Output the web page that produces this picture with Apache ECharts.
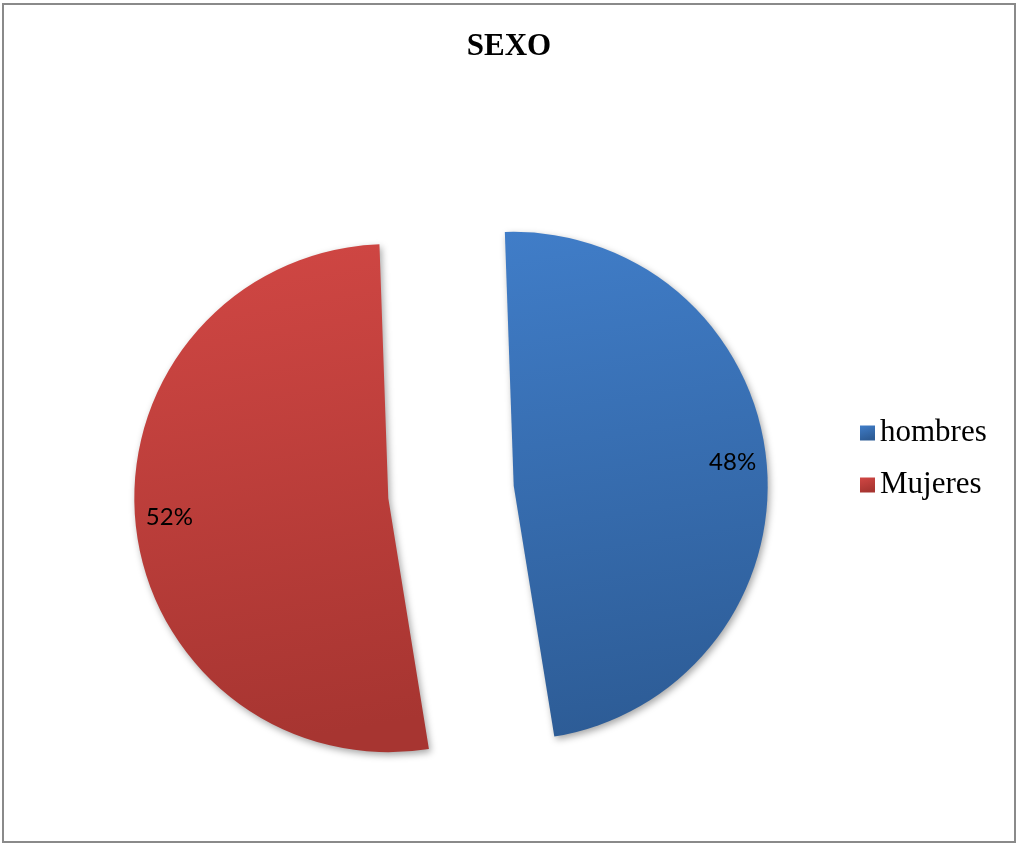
<!DOCTYPE html>
<html>
<head>
<meta charset="utf-8">
<script src="https://cdn.jsdelivr.net/npm/echarts@6/dist/echarts.min.js"></script>
<style>
html,body{margin:0;padding:0;background:#fff;}
#c{width:1018px;height:846px;}
</style>
</head>
<body>
<div id="c"></div>
<script>
var titleText = 'SEXO';
var categories = ['hombres', 'Mujeres'];
var values = [48, 52];

var fills = [
  {top: '#407dc8', bottom: '#2d5c96'},
  {top: '#d14744', bottom: '#a73531'}
];

function grad(c) {
  return new echarts.graphic.LinearGradient(0, 0, 0.3, 1, [
    {offset: 0, color: c.top},
    {offset: 1, color: c.bottom}
  ]);
}

var mainData = categories.map(function (n, i) {
  return {name: n, value: values[i], selected: true, itemStyle: {color: grad(fills[i])}};
});
var labelData = categories.map(function (n, i) {
  return {name: n, value: values[i], selected: true};
});

var chart = echarts.init(document.getElementById('c'), null, {renderer: 'canvas'});
chart.setOption({
  animation: false,
  backgroundColor: '#ffffff',
  title: {
    text: titleText,
    left: 'center',
    top: 26,
    textStyle: {fontFamily: 'Liberation Serif', fontWeight: 'bold', fontSize: 31, color: '#000'}
  },
  legend: {
    data: categories,
    orient: 'vertical',
    left: 855,
    top: 412,
    icon: 'rect',
    itemWidth: 15,
    itemHeight: 15,
    itemGap: 20,
    selectedMode: false,
    textStyle: {fontFamily: 'Liberation Serif', fontSize: 31, color: '#000', lineHeight: 32}
  },
  graphic: [{
    type: 'rect',
    shape: {x: 3, y: 4, width: 1012, height: 838},
    style: {fill: 'none', stroke: '#8a8a8a', lineWidth: 2},
    silent: true
  }],
  series: [{
    type: 'pie',
    center: [451, 492],
    radius: [0, 254],
    startAngle: 92,
    clockwise: true,
    selectedMode: 'multiple',
    selectedOffset: 63,
    label: {show: false},
    labelLine: {show: false},
    emphasis: {disabled: true},
    itemStyle: {
      shadowBlur: 7,
      shadowColor: 'rgba(0,0,0,0.35)',
      shadowOffsetX: 2,
      shadowOffsetY: 3
    },
    data: mainData
  }, {
    type: 'pie',
    center: [451, 490],
    radius: [180, 254],
    startAngle: 92,
    clockwise: true,
    selectedMode: 'multiple',
    selectedOffset: 63,
    silent: true,
    itemStyle: {color: 'rgba(0,0,0,0)'},
    label: {
      show: true,
      position: 'inside',
      formatter: '{d}%',
      fontFamily: 'Lato',
      fontSize: 24,
      color: '#000'
    },
    labelLine: {show: false},
    emphasis: {disabled: true},
    data: labelData
  }]
});
</script>
</body>
</html>
